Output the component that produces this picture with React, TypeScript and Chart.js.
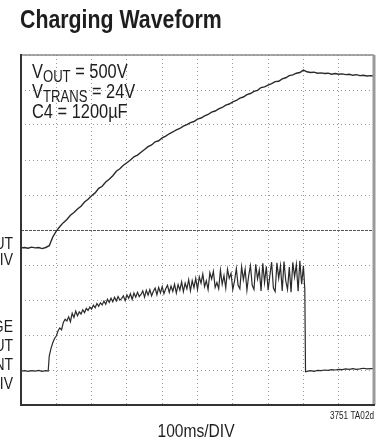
import React, { useEffect, useRef } from "react";
import { Chart, registerables } from "chart.js";

Chart.register(...registerables);

// ---- data (time in ms, amplitude in scope divisions) ----
const voutTimes = [0, 10, 20, 30, 40, 50, 60, 70, 80, 90, 100, 110, 120, 130, 140, 150, 160, 170, 180, 190, 200, 210, 220, 230, 240, 250, 260, 270, 280, 290, 300, 310, 320, 330, 340, 350, 360, 370, 380, 390, 400, 410, 420, 430, 440, 450, 460, 470, 480, 490, 500, 510, 520, 530, 540, 550, 560, 570, 580, 590, 600, 610, 620, 630, 640, 650, 660, 670, 680, 690, 700, 710, 720, 730, 740, 750, 760, 770, 780, 790, 800, 810, 820, 830, 840, 850, 860, 870, 880, 890, 900, 910, 920, 930, 940, 950, 960, 970, 980, 990, 1000];
const voutValues = [4.49, 4.5, 4.48, 4.51, 4.49, 4.5, 4.47, 4.5, 4.55, 4.8, 4.97, 5.1, 5.21, 5.3, 5.42, 5.5, 5.6, 5.68, 5.8, 5.88, 5.98, 6.06, 6.19, 6.25, 6.37, 6.45, 6.55, 6.68, 6.75, 6.85, 6.92, 7.0, 7.09, 7.14, 7.22, 7.3, 7.38, 7.43, 7.52, 7.55, 7.63, 7.68, 7.75, 7.8, 7.86, 7.9, 7.97, 8.01, 8.07, 8.1, 8.17, 8.2, 8.26, 8.3, 8.37, 8.4, 8.46, 8.5, 8.57, 8.6, 8.66, 8.7, 8.77, 8.8, 8.87, 8.9, 8.96, 8.99, 9.07, 9.09, 9.14, 9.18, 9.24, 9.25, 9.32, 9.35, 9.41, 9.43, 9.48, 9.5, 9.57, 9.52, 9.5, 9.51, 9.48, 9.49, 9.47, 9.48, 9.45, 9.47, 9.45, 9.46, 9.44, 9.45, 9.42, 9.44, 9.41, 9.42, 9.4, 9.41, 9.4];

const currTimes = [0, 10, 20, 30, 40, 50, 60, 70, 77, 80, 85, 90, 95, 100, 105, 110, 115, 120, 125, 130, 135, 140, 145, 150, 155, 160, 165, 170, 175, 180, 185, 190, 195, 200, 205, 210, 215, 220, 225, 230, 235, 240, 245, 250, 255, 260, 265, 270, 275, 280, 285, 290, 295, 300, 305, 310, 315, 320, 325, 330, 335, 340, 345, 350, 355, 360, 365, 370, 375, 380, 385, 390, 395, 400, 405, 410, 415, 420, 425, 430, 435, 440, 445, 450, 455, 460, 465, 470, 475, 480, 485, 490, 495, 500, 505, 510, 515, 520, 525, 530, 535, 540, 545, 550, 555, 560, 565, 570, 575, 580, 585, 590, 595, 600, 605, 610, 615, 620, 625, 630, 635, 640, 645, 650, 655, 660, 665, 670, 675, 680, 685, 690, 695, 700, 705, 710, 715, 720, 725, 730, 735, 740, 745, 750, 755, 760, 765, 770, 775, 780, 785, 790, 795, 800, 804, 806, 810, 820, 830, 840, 850, 860, 870, 880, 890, 900, 910, 920, 930, 940, 950, 960, 970, 980, 990, 1000];
const currValues = [0.97, 0.98, 0.96, 0.98, 0.97, 0.99, 0.96, 0.98, 0.97, 1.4, 1.62, 1.78, 1.9, 1.97, 2.12, 2.2, 2.15, 2.36, 2.45, 2.4, 2.52, 2.38, 2.62, 2.5, 2.68, 2.55, 2.66, 2.6, 2.72, 2.64, 2.76, 2.7, 2.8, 2.74, 2.85, 2.78, 2.9, 2.82, 2.92, 2.86, 2.97, 2.88, 3.02, 2.93, 3.05, 2.95, 3.08, 2.97, 3.1, 3.0, 3.04, 3.12, 2.98, 3.15, 3.05, 3.18, 3.02, 3.2, 3.08, 3.22, 3.1, 3.16, 3.26, 3.08, 3.28, 3.14, 3.3, 3.12, 3.25, 3.34, 3.15, 3.36, 3.2, 3.38, 3.18, 3.32, 3.42, 3.22, 3.4, 3.25, 3.45, 3.2, 3.44, 3.28, 3.52, 3.24, 3.48, 3.32, 3.58, 3.26, 3.55, 3.35, 3.62,
  3.3, 3.66, 3.48, 3.74, 3.38, 3.55, 3.3, 3.78, 3.6, 3.82, 3.36, 3.5, 3.32, 3.85, 3.45, 3.7, 3.34, 3.88, 3.62, 3.76, 3.3, 3.55, 3.9, 3.42, 3.32, 3.95, 3.58, 3.88, 3.28, 3.7, 3.98, 3.42, 3.3, 4.02, 3.6, 3.86, 3.26, 4.05, 3.5, 3.96, 3.28, 3.7, 4.08, 3.34, 3.24, 4.06, 3.62, 3.98, 3.26, 4.1, 3.55, 3.3, 3.94, 3.22, 4.08, 3.66, 4.02, 3.25, 4.12, 3.45, 3.98,
  3.3, 0.95, 0.96, 0.98, 0.96, 0.99, 0.98, 1.0, 0.99, 1.01, 1.0, 1.02, 1.01, 1.03, 1.02, 1.04, 1.02, 1.03, 1.05, 1.03, 1.04, 1.04];

const titleText = "Charging Waveform";
const annotationLines = [
  { main: "V", sub: "OUT", rest: " = 500V" },
  { main: "V", sub: "TRANS", rest: " = 24V" },
  { main: "C4 = 1200µF", sub: "", rest: "" },
];
const voutLabel = ["VOUT", "100V/DIV"];
const currentLabel = ["AVERAGE", "INPUT", "CURRENT", "2A/DIV"];
const xAxisLabel = "100ms/DIV";
const figureId = "3751 TA02d";

const FONT = "'Liberation Sans', Arial, sans-serif";
const SQUEEZE = 0.82;

function drawText(ctx: CanvasRenderingContext2D, text: string, x: number, y: number, font: string, align: CanvasTextAlign) {
  ctx.save();
  ctx.font = font;
  ctx.textAlign = align;
  ctx.translate(x, y);
  ctx.scale(SQUEEZE, 1);
  ctx.fillText(text, 0, 0);
  const w = ctx.measureText(text).width * SQUEEZE;
  ctx.restore();
  return w;
}

const textPlugin = {
  id: "scopeText",
  afterDraw(chart: any) {
    const ctx = chart.ctx as CanvasRenderingContext2D;
    const a = chart.chartArea;
    ctx.save();
    // frame
    ctx.lineCap = "butt";
    ctx.strokeStyle = "#8a8a8a";
    ctx.lineWidth = 1.5;
    ctx.beginPath();
    ctx.moveTo(a.left, a.top);
    ctx.lineTo(a.right, a.top);
    ctx.stroke();
    ctx.strokeStyle = "#9a9a9a";
    ctx.lineWidth = 3;
    ctx.beginPath();
    ctx.moveTo(a.right, a.top);
    ctx.lineTo(a.right, a.bottom);
    ctx.stroke();
    ctx.strokeStyle = "#333";
    ctx.lineWidth = 2;
    ctx.beginPath();
    ctx.moveTo(a.left, a.top - 1);
    ctx.lineTo(a.left, a.bottom);
    ctx.lineTo(a.right + 1, a.bottom);
    ctx.stroke();

    ctx.fillStyle = "#1e1e1e";
    ctx.textBaseline = "alphabetic";
    // title
    drawText(ctx, titleText, 20, 28, `bold 26px ${FONT}`, "left");

    // annotation
    let y = 78;
    for (const ln of annotationLines) {
      let x = 32;
      x += drawText(ctx, ln.main, x, y, `20px ${FONT}`, "left");
      if (ln.sub) x += drawText(ctx, ln.sub, x, y + 4, `16px ${FONT}`, "left");
      if (ln.rest) drawText(ctx, ln.rest, x, y, `20px ${FONT}`, "left");
      y += 20;
    }

    // left labels (clipped at page edge)
    const g1 = [249, 265];
    voutLabel.forEach((t, i) => drawText(ctx, t, 13, g1[i], `17px ${FONT}`, "right"));
    const g2 = [332, 351, 370, 389];
    currentLabel.forEach((t, i) => drawText(ctx, t, 13, g2[i], `17px ${FONT}`, "right"));

    // x label
    drawText(ctx, xAxisLabel, 196, 437, `19px ${FONT}`, "center");
    drawText(ctx, figureId, 374, 419, `10px ${FONT}`, "right");
    ctx.restore();
  },
};

export default function App() {
  const ref = useRef<HTMLCanvasElement>(null);
  useEffect(() => {
    if (!ref.current) return;
    const gridColor = (c: any) => (c.tick && c.tick.value === 5 ? "#555" : "#999");
    const gridDash = (c: any) => (c.tick && c.tick.value === 5 ? [3, 1] : [1, 3]);
    const chart = new Chart(ref.current, {
      type: "line",
      data: {
        datasets: [
          {
            label: "VOUT",
            data: voutTimes.map((t, i) => ({ x: t, y: voutValues[i] })),
            borderColor: "#2a2a2a",
            borderWidth: 1.4,
            pointRadius: 0,
            tension: 0,
          },
          {
            label: "Average input current",
            data: currTimes.map((t, i) => ({ x: t, y: currValues[i] })),
            borderColor: "#2a2a2a",
            borderWidth: 1.2,
            pointRadius: 0,
            tension: 0,
          },
        ],
      },
      options: {
        animation: false,
        responsive: false,
        devicePixelRatio: 1,
        layout: { padding: { left: 21, top: 55, right: 7, bottom: 37 } },
        plugins: { legend: { display: false }, tooltip: { enabled: false }, title: { display: false } },
        scales: {
          x: {
            type: "linear",
            min: 0,
            max: 1000,
            ticks: { display: false, stepSize: 100 },
            grid: { color: gridColor, drawTicks: false, lineWidth: 1 },
            border: { display: false, dash: gridDash },
          },
          y: {
            type: "linear",
            min: 0,
            max: 10,
            ticks: { display: false, stepSize: 1 },
            grid: { color: gridColor, drawTicks: false, lineWidth: 1 },
            border: { display: false, dash: gridDash },
          },
        },
      },
      plugins: [textPlugin],
    });
    return () => chart.destroy();
  }, []);
  return (
    <div style={{ position: "fixed", left: 0, top: 0, width: 381, height: 442, background: "#fff" }}>
      <canvas ref={ref} width={381} height={442} style={{ display: "block", width: 381, height: 442 }} />
    </div>
  );
}
